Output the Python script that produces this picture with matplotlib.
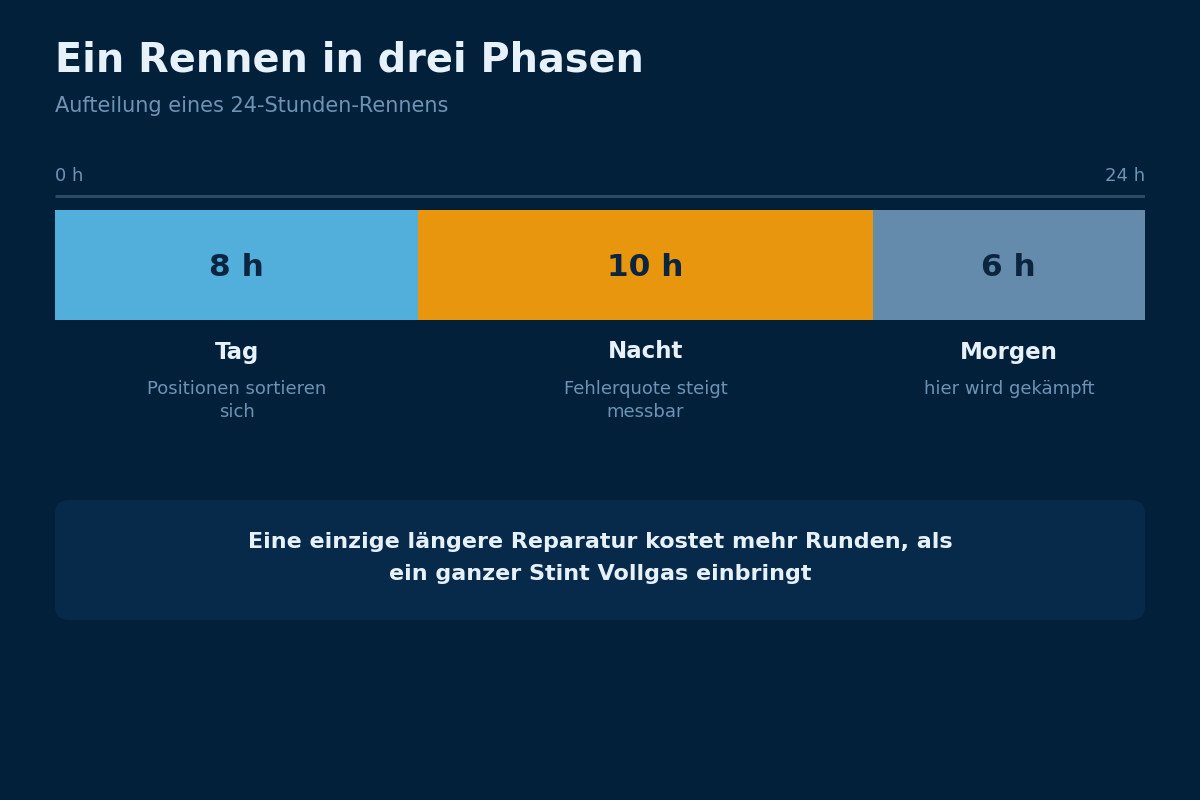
import matplotlib
matplotlib.use("Agg")
import matplotlib.pyplot as plt
from matplotlib.patches import FancyBboxPatch

plt.rcParams["font.family"] = ["DejaVu Sans"]

# data
phases = ["Tag", "Nacht", "Morgen"]
hours = [8, 10, 6]
notes = ["Positionen sortieren\nsich", "Fehlerquote steigt\nmessbar", "hier wird gekämpft"]
colors = ["#52AEDB", "#E8960E", "#648BAB"]
total = 24

bg_col = "#022039"
light = "#E6F1FA"
muted = "#6E93B5"
dark = "#0B2540"

fig = plt.figure(figsize=(12, 8), dpi=100, facecolor=bg_col)

# layout layer in pixel coordinates
bg = fig.add_axes([0, 0, 1, 1])
bg.set_xlim(0, 1200)
bg.set_ylim(800, 0)
bg.axis("off")

bg.text(55, 60, "Ein Rennen in drei Phasen", fontsize=28.6, fontweight="bold",
        color=light, va="center", ha="left")
bg.text(55, 106, "Aufteilung eines 24-Stunden-Rennens", fontsize=15,
        color=muted, va="center", ha="left")

box = FancyBboxPatch((55, 500), 1090, 120, boxstyle="round,pad=0,rounding_size=14",
                     facecolor="#07294A", edgecolor="none")
bg.add_patch(box)
bg.text(600, 558, "Eine einzige längere Reparatur kostet mehr Runden, als\nein ganzer Stint Vollgas einbringt",
        fontsize=16, fontweight="bold", color=light, ha="center", va="center",
        linespacing=1.76)

# bar layer: x in hours, y in pixels
ax = fig.add_axes([55 / 1200, (800 - 430) / 800, 1090 / 1200, 270 / 800])
ax.set_xlim(0, total)
ax.set_ylim(430, 160)
ax.axis("off")
ax.patch.set_alpha(0)

ax.plot([0, total], [196, 196], color="#2E4D68", lw=2, solid_capstyle="butt")
ax.text(0, 176, "0 h", fontsize=13, color=muted, ha="left", va="center")
ax.text(total, 176, f"{total} h", fontsize=13, color=muted, ha="right", va="center")

left = 0
for name, h, note, c in zip(phases, hours, notes, colors):
    ax.barh(265, h, left=left, height=110, color=c, edgecolor="none")
    mid = left + h / 2
    ax.text(mid, 267, f"{h} h", fontsize=22.5, fontweight="bold", color=dark,
            ha="center", va="center")
    ax.text(mid, 352, name, fontsize=16.5, fontweight="bold", color=light,
            ha="center", va="center")
    ax.text(mid, 379.5, note, fontsize=13, color=muted, ha="center", va="top",
            linespacing=1.42)
    left += h

fig.savefig("out.png", dpi=100, facecolor=bg_col)
